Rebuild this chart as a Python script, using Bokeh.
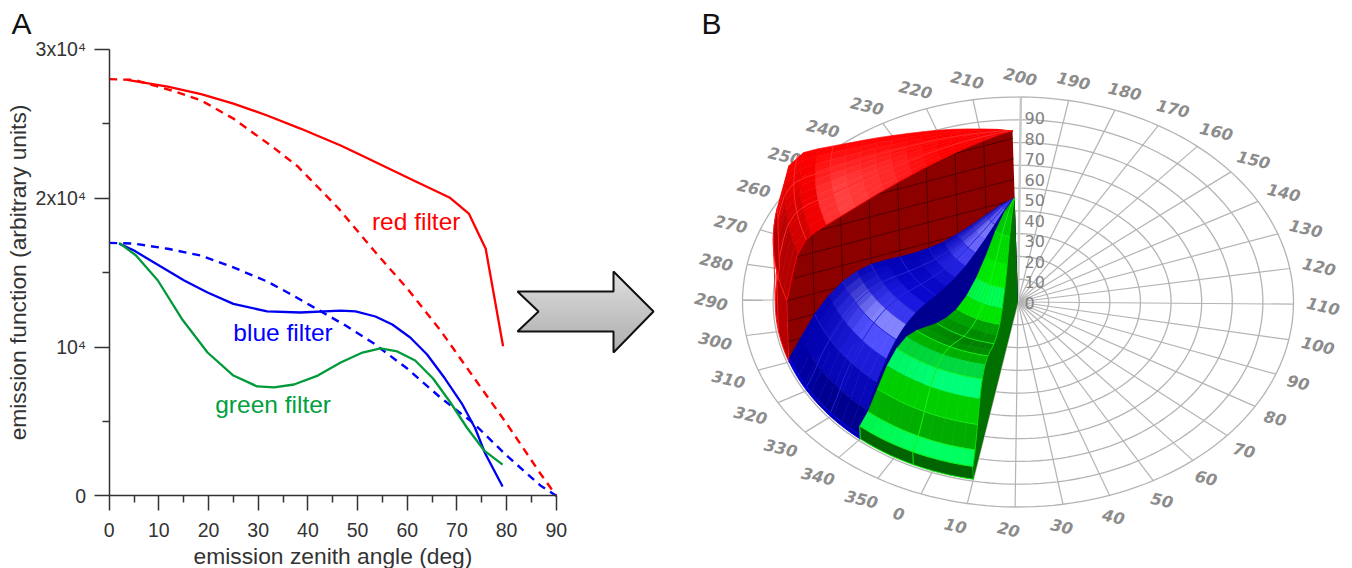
import numpy as np
from bokeh.plotting import figure
from bokeh.models import Range1d, FixedTicker, LinearAxis
from bokeh.core.properties import value
from bokeh.embed import file_html
from bokeh.resources import INLINE

# ---------- curves of panel A (zenith angle deg, emission function) ----------
red_solid_x = [3.6, 11.8, 18.5, 25, 31.8, 38.5, 46.6, 50, 61.3, 68.5, 72.4, 75.8, 79.3]
red_solid_y = [27950, 27500, 27000, 26360, 25560, 24680, 23540, 23000, 21190, 20050, 18970, 16600, 10050]
red_dash_x = [0, 5, 13, 18.5, 25, 33.1, 37.9, 42, 46.2, 53.3, 60, 66.7, 73.4, 80, 86.8, 90]
red_dash_y = [28000, 27950, 27200, 26570, 25350, 23400, 22150, 20750, 19300, 16480, 13930, 11110, 7950, 4860, 1500, 0]
blue_dash_x = [0, 5, 11.8, 18.5, 25, 31.8, 36, 40.5, 47.6, 53.3, 60, 66.7, 73.4, 80, 86.8, 90]
blue_dash_y = [17000, 16950, 16600, 16140, 15350, 14400, 13650, 12800, 11440, 10230, 8550, 6600, 4860, 2710, 700, 0]
blue_solid_x = [2, 5, 15.1, 19.8, 25, 31.8, 38.5, 46.6, 49.6, 53.6, 57, 60.6, 64, 67.6, 71, 73.7, 75.7, 79.2]
blue_solid_y = [16950, 16480, 14470, 13660, 12900, 12390, 12320, 12450, 12390, 12050, 11510, 10640, 9500, 7880, 6200, 4520, 2840, 620]
green_solid_x = [2, 5.4, 9.8, 14.6, 19.8, 25, 29.8, 33.2, 37.2, 42, 46.6, 51, 54.6, 58, 61.6, 65.2, 68.7, 72, 75.5, 79.2]
green_solid_y = [17000, 16150, 14470, 11900, 9630, 8080, 7350, 7280, 7480, 8080, 8960, 9630, 9900, 9700, 9090, 7880, 6270, 4590, 3040, 2100]

x_major = list(range(0, 91, 10))
x_minor = list(range(5, 90, 10))
y_major = [0, 10000, 20000, 30000]
y_minor = [5000, 15000, 25000]
y_labels = {0: "0", 10000: "10\u2074", 20000: "2x10\u2074", 30000: "3x10\u2074"}

# ---------- panel B: polar grid ----------
azimuths = list(range(0, 360, 10))
rings = list(range(10, 100, 10))
z_labels = list(range(0, 100, 10))
# wedges (azimuth from, azimuth to), colours of bands every 5 deg of zenith angle
red_wedge = (280, 310)
blue_wedge = (310, 340)
green_wedge = (340, 370)
red_bands = ["#f00000", "#f40000", "#f80000", "#fc0000", "#ff0000", "#ff0808", "#ff1010", "#ff1c1c",
             "#ff2828", "#ff3030", "#ff3838", "#ff4040", "#ff3030", "#f00000", "#d40000", "#b40000"]
blue_bands = ["#4848ff", "#6464ff", "#7878ff", "#6868ff", "#4040f4", "#2020e0", "#1010d0", "#0808c8",
              "#0808d0", "#1818e0", "#3838f0", "#8484ff", "#5050ff", "#1c1cd8", "#0808b8", "#000090"]
green_bands = ["#00b800", "#00d000", "#00e000", "#00f000", "#00ff50", "#00e800", "#00a000", "#008c00",
               "#008000", "#008c00", "#00b000", "#00d840", "#00ff78", "#00d000", "#00ac00", "#00ff60"]
red_dim = "#ff0000"
blue_dim = "#0000b0"
green_dim = "#00d000"

# ---------- geometry of the view ----------
CX, CY, A, B = 1017.5, 301.5, 275.5, 205.0
K, LEAN, ROT = 0.00612, 0.032, 110.6
Z_STEP = 20.45
PX = dict(x_range_name="px", y_range_name="px")


def project(phi, theta, e):
    t = np.radians(np.asarray(phi, float) - ROT)
    r = np.asarray(theta, float) / 90.0
    e = np.asarray(e, float)
    return CX + r * A * np.cos(t) - LEAN * K * e, CY - r * B * np.sin(t) - K * e


def blend(c1, c2, f):
    a = [int(c1[i:i + 2], 16) for i in (1, 3, 5)]
    b = [int(c2[i:i + 2], 16) for i in (1, 3, 5)]
    return "#%02x%02x%02x" % tuple(int(round(u + (v - u) * f)) for u, v in zip(a, b))


# The frame covers the whole page area. Main ranges are the chart's units of panel A,
# the "px" ranges hold the projected panel B and the arrow.
W, H = 1352, 568
X0, XS, Y0, YS = 108.7, 4.967, 495.3, 148.8 / 10000
p = figure(width=W, height=H, output_backend="svg", toolbar_location=None,
           x_range=Range1d((0 - X0) / XS, (W - X0) / XS),
           y_range=Range1d((Y0 - H) / YS, (Y0 - 0) / YS),
           x_axis_location=None, y_axis_location=None,
           min_border=0, outline_line_color=None, background_fill_color="white", border_fill_color="white")
p.extra_x_ranges = {"px": Range1d(0, W)}
p.extra_y_ranges = {"px": Range1d(H, 0)}
p.grid.visible = False

xax = LinearAxis(fixed_location=0, bounds=(0, 90), ticker=FixedTicker(ticks=x_major, minor_ticks=x_minor),
                 axis_label="emission zenith angle (deg)", major_label_standoff=12, axis_label_standoff=3)
yax = LinearAxis(fixed_location=0, bounds=(0, 30000), ticker=FixedTicker(ticks=y_major, minor_ticks=y_minor),
                 axis_label="emission function (arbitrary units)", major_label_overrides=y_labels,
                 major_label_standoff=8, axis_label_standoff=2)
for ax in (xax, yax):
    ax.axis_line_color = "#333333"
    ax.axis_line_width = 1.5
    ax.major_tick_line_color = "#333333"
    ax.major_tick_line_width = 1.5
    ax.minor_tick_line_color = "#333333"
    ax.minor_tick_line_width = 1.5
    ax.major_tick_in = 0
    ax.major_tick_out = 15
    ax.minor_tick_in = 0
    ax.minor_tick_out = 7
    ax.major_label_text_font = "Liberation Sans"
    ax.major_label_text_font_size = "19.5px"
    ax.major_label_text_color = "#333333"
    ax.axis_label_text_font = "Liberation Sans"
    ax.axis_label_text_font_size = "22.8px"
    ax.axis_label_text_font_style = "normal"
    ax.axis_label_text_color = "#333333"
p.add_layout(xax, "below")
p.add_layout(yax, "left")

p.line(red_dash_x, red_dash_y, line_color="#ff0000", line_width=2.4, line_dash="8 6")
p.line(blue_dash_x, blue_dash_y, line_color="#0000ff", line_width=2.4, line_dash="8 6")
p.line(red_solid_x, red_solid_y, line_color="#ff0000", line_width=2.3)
p.line(blue_solid_x, blue_solid_y, line_color="#0000f0", line_width=2.3)
p.line(green_solid_x, green_solid_y, line_color="#009a3a", line_width=2.3)

for txt, tx, ty, col in (("red filter", 61.8, 18430, "#ff0000"), ("blue filter", 35.0, 11000, "#0000ff"),
                         ("green filter", 33.0, 6130, "#00a040")):
    p.text([tx], [ty], text=[txt], text_color=col, text_font=value("Liberation Sans"),
           text_font_size="24.5px", text_align="center", text_baseline="middle")

# arrow with a vertical gradient
ys = np.arange(271, 352, 2.0)
lefts, rights, tops, bots, cols = [], [], [], [], []
for yy in ys:
    ym = yy + 1
    d = abs(ym - 311)
    lefts.append(517 + 21 * (1 - d / 20) if d < 20 else 613)
    rights.append(613 + 40 * (1 - d / 41))
    tops.append(yy)
    bots.append(yy + 2.4)
    g = int(222 - 50 * (yy - 271) / 81)
    cols.append("#%02x%02x%02x" % (g, g, g))
p.quad(left=lefts, right=rights, top=tops, bottom=bots, fill_color=cols, line_color=None, **PX)
p.patch([517, 538, 517, 613, 613, 653, 613, 613], [291, 311, 331, 331, 352, 311, 271, 291],
        fill_color=None, line_color="#111111", line_width=2, **PX)
p.text([11, 701], [23, 23], text=["A", "B"], text_font=value("Liberation Sans"), text_font_size="30px",
       text_color="#111111", text_baseline="middle", **PX)

# ---------- panel B ----------
GRID = "#b4b4b4"
phi_full = np.arange(0, 360.5, 2.0)
p.multi_line([project(phi_full, r, 0)[0].tolist() for r in rings],
             [project(phi_full, r, 0)[1].tolist() for r in rings], line_color=GRID, line_width=1.3, **PX)
sx, sy = [], []
for az in azimuths:
    xx, yy = project([az, az], [0, 90], [0, 0])
    sx.append(xx.tolist())
    sy.append(yy.tolist())
p.multi_line(sx, sy, line_color=GRID, line_width=1.2, **PX)
xx, yy = project([200, 200], [0, 90], [0, 0])
p.line(xx.tolist(), yy.tolist(), line_color="#c8c8c8", line_width=2.4, **PX)

# azimuth labels are left anchored and sheared by a small rotation
lx, ly, lt = [], [], []
for az in azimuths:
    t = np.radians(az - ROT)
    lx.append(CX + 306 * np.cos(t) - 17)
    ly.append(CY - 2 - 227 * np.sin(t))
    lt.append(str(az))
p.text(lx, ly, text=lt, text_color="#8c8c8c", text_font=value("DejaVu Sans"), text_font_style="bold italic",
       text_font_size="16px", text_align="left", text_baseline="middle", angle=np.radians(-13).item(), **PX)
p.text([1024] * len(z_labels), [CY + 0.5 - Z_STEP * z / 10 for z in z_labels], text=[str(z) for z in z_labels],
       text_color="#808080", text_font=value("DejaVu Sans"), text_font_size="16px",
       text_align="left", text_baseline="middle", **PX)


def wedge(th, ev, wedge_range, bands, dim, dim_start, mesh_col, spokes, wall_col, wall_line, rim_col, rim_line,
          rings_mesh, z_lines=False):
    p0, p1 = wedge_range
    th_max = th[-1]
    edges = list(np.arange(0, 75.5, 5.0)) + [th_max]
    cuts = np.linspace(p0, p1, 11)
    E = lambda q: np.interp(q, th, ev)
    # surface bands from the centre outward, each lit more strongly toward the azimuth p1
    for i, col in enumerate(bands):
        for j in range(10):
            phis_c = np.linspace(cuts[j], cuts[j + 1], 4)
            f = min(1.0, dim_start + (1 - dim_start) * (j + 0.5) / 6)
            c = blend(dim, col, f)
            xo, yo = project(phis_c, edges[i + 1], E(edges[i + 1]))
            xi, yi = project(phis_c, edges[i], E(edges[i]))
            p.patch(np.r_[xi, xo[::-1]].tolist(), np.r_[yi, yo[::-1]].tolist(),
                    fill_color=c, line_color=c, line_width=0.6, **PX)
    phis = np.linspace(p0, p1, 31)
    # surface mesh
    for q in rings_mesh:
        xm, ym = project(phis, q, E(q))
        p.line(xm.tolist(), ym.tolist(), line_color=mesh_col, line_width=1, **PX)
    tt = np.linspace(0, th_max, 60)
    for az in spokes:
        xm, ym = project(np.full_like(tt, az), tt, E(tt))
        p.line(xm.tolist(), ym.tolist(), line_color=mesh_col, line_width=1, **PX)
    # outer rim wall
    xt, yt = project(phis, th_max, E(th_max))
    xb, yb = project(phis, th_max, 0)
    p.patch(np.r_[xt, xb[::-1]].tolist(), np.r_[yt, yb[::-1]].tolist(),
            fill_color=rim_col, line_color=rim_line, line_width=1, **PX)
    for az in spokes:
        xm, ym = project([az, az], [th_max, th_max], [E(th_max), 0])
        p.line(xm.tolist(), ym.tolist(), line_color=rim_line, line_width=1, **PX)
    # end wall
    xt, yt = project(np.full_like(tt, p1), tt, E(tt))
    xb, yb = project(np.full_like(tt, p1), tt, np.zeros_like(tt))
    p.patch(np.r_[xt, xb[::-1]].tolist(), np.r_[yt, yb[::-1]].tolist(),
            fill_color=wall_col, line_color=None, **PX)
    if z_lines:
        for q in np.arange(10, 80, 10.0):
            xm, ym = project([p1, p1], [q, q], [0, E(q)])
            p.line(xm.tolist(), ym.tolist(), line_color=wall_line, line_width=1, **PX)
        for n in range(1, 9):
            z = n * Z_STEP / K
            inside = tt[E(tt) >= z]
            if len(inside) > 1:
                xm, ym = project([p1, p1], [inside[0], inside[-1]], [z, z])
                p.line(xm.tolist(), ym.tolist(), line_color=wall_line, line_width=1, **PX)
    p.line(xt.tolist(), yt.tolist(), line_color=wall_line if not z_lines else "#ff0000", line_width=1, **PX)


wedge(red_solid_x, red_solid_y, red_wedge, red_bands, red_dim, 0.0, "#ff2c2c", [290, 300], "#8c0000", "#500000",
      "#b40000", "#ff1818", [60, 72], z_lines=True)
wedge(blue_solid_x, blue_solid_y, blue_wedge, blue_bands, blue_dim, 0.1, "#2424d8", [320, 330], "#000090", "#0000a0",
      "#0000a0", "#0000ff", [10, 20, 30, 40, 50, 60, 70])
wedge(green_solid_x, green_solid_y, green_wedge, green_bands, green_dim, 0.8, "#18f018", [355], "#007000", "#00e000",
      "#006400", "#10f010", [10, 20, 30, 40, 50, 60, 70, 75])

open("out.html", "w").write(file_html(p, INLINE))
